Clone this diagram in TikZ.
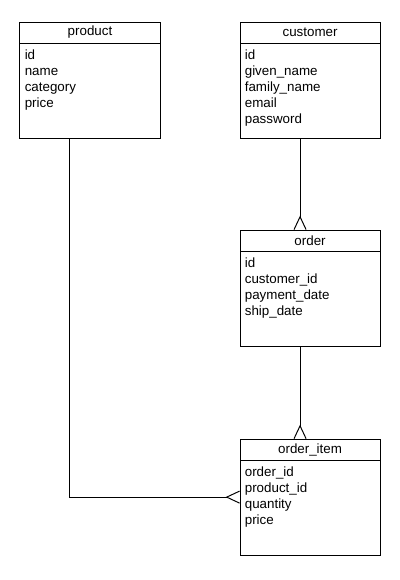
\documentclass[tikz,border=0pt]{standalone}
\usepackage{fontspec}
\setmainfont{Liberation Sans}
\usetikzlibrary{positioning,calc,arrows.meta}
\tikzset{
    tblhead/.style = {
        rectangle, draw, line width=0.7pt, outer sep=0pt,
        minimum width=3.5cm, minimum height=0.525cm, inner sep=0pt,
        font=\fontsize{9.5}{11.4}\selectfont
    },
    tblbody/.style = {
        rectangle, draw, line width=0.7pt, anchor=north, outer sep=0pt,
        minimum width=3.5cm, minimum height=2.375cm,
        inner xsep=0.12cm, inner ysep=0.12cm,
        font=\fontsize{9.5}{11.4}\selectfont
    },
    rel/.style = {draw, line width=0.7pt,
        -{Straight Barb[reversed, length=0.32cm, width=0.3cm, line width=0.7pt]}}
}
% rows of a table, pinned to the top of the box
\newcommand{\tblrows}[1]{\parbox[t][2.135cm][t]{3.26cm}{\strut #1}}

\begin{document}
\begin{tikzpicture}[x=0.025cm, y=-0.025cm]
  \useasboundingbox (0,0) rectangle (400,580);

  \node [tblhead] (product) at (90,32.5) {product};
  \node [tblbody, below=0pt of product] (productbody)
        {\tblrows{id\\name\\category\\price}};

  \node [tblhead, right=2cm of product] (customer) {customer};
  \node [tblbody, below=0pt of customer] (customerbody)
        {\tblrows{id\\given\_name\\family\_name\\email\\password}};

  \node [tblhead, below=2.3cm of customerbody] (order) {order};
  \node [tblbody, below=0pt of order] (orderbody)
        {\tblrows{id\\customer\_id\\payment\_date\\ship\_date}};

  \node [tblhead, below=2.325cm of orderbody] (orderitem) {order\_item};
  \node [tblbody, below=0pt of orderitem] (orderitembody)
        {\tblrows{order\_id\\product\_id\\quantity\\price}};

  \path [rel] ($(customerbody.south)+(-10,0)$) -- ($(order.north)+(-10,0)$);
  \path [rel] ($(orderbody.south)+(-10,0)$) -- ($(orderitem.north)+(-10,0)$);
  \path [rel] ($(productbody.south west)+(50,0)$)
        |- ($(orderitembody.west)+(0,-10.5)$);
\end{tikzpicture}
\end{document}
